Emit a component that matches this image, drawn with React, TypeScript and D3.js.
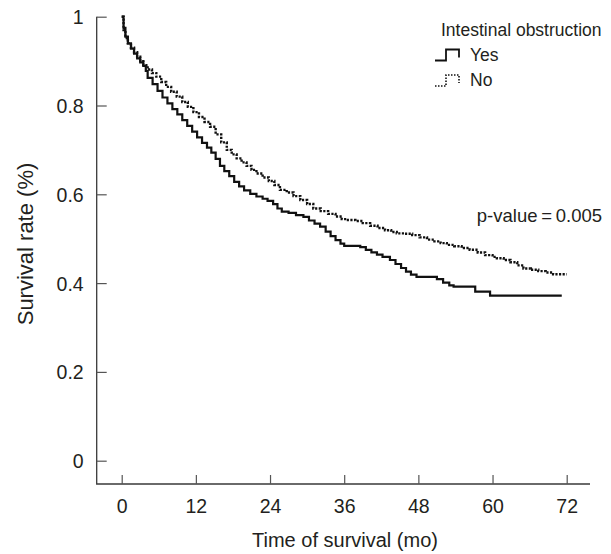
import React, { useEffect, useRef } from "react";
import * as d3 from "d3";

// axis ticks
const months = [0, 12, 24, 36, 48, 60, 72];
const rateTicks = [0, 0.2, 0.4, 0.6, 0.8, 1];

// Kaplan-Meier estimates: [month, survival]
const yesCurve: [number, number][] = [
  [0, 1], [0.3, 0.975], [0.6, 0.955], [1, 0.94], [1.5, 0.928], [2, 0.917],
  [2.5, 0.906], [3, 0.897], [3.5, 0.889], [3.9, 0.878], [4.2, 0.862], [5, 0.848],
  [5.8, 0.833], [6.6, 0.818], [7.4, 0.805], [8.2, 0.792], [9, 0.78], [9.8, 0.767],
  [10.6, 0.754], [11.4, 0.741], [12.2, 0.728], [13, 0.716], [13.8, 0.705], [14.5, 0.694],
  [15.2, 0.68], [15.9, 0.664], [16.6, 0.652], [17.4, 0.641], [18.2, 0.628], [19, 0.618],
  [19.8, 0.609], [20.8, 0.601], [21.8, 0.595], [22.8, 0.59], [23.6, 0.585], [24.5, 0.578],
  [25.2, 0.568], [25.9, 0.561], [27, 0.558], [28.2, 0.553], [29.4, 0.549], [30.3, 0.541],
  [31.2, 0.534], [32.1, 0.527], [33, 0.516], [33.8, 0.506], [34.6, 0.497], [35.4, 0.489],
  [36, 0.484], [38.6, 0.481], [39.5, 0.475], [40.4, 0.469], [41.3, 0.464], [42.2, 0.459],
  [43.4, 0.452], [44.3, 0.443], [45.2, 0.434], [46, 0.426], [46.8, 0.419], [47.7, 0.414],
  [51, 0.409], [52, 0.401], [53, 0.395], [53.7, 0.392], [57.2, 0.381], [59.6, 0.372],
  [71.2, 0.372],
];

const noCurve: [number, number][] = [
  [0, 1], [0.3, 0.97], [0.6, 0.952], [1, 0.94], [1.5, 0.93], [2, 0.92],
  [2.5, 0.91], [3, 0.9], [3.5, 0.891], [4.2, 0.881], [4.9, 0.873], [5.6, 0.865],
  [6.4, 0.853], [7.2, 0.842], [8, 0.831], [8.9, 0.82], [9.8, 0.808], [10.7, 0.797],
  [11.6, 0.785], [12.5, 0.774], [13.4, 0.763], [14.3, 0.752], [15.2, 0.735], [16.1, 0.717],
  [17, 0.7], [17.8, 0.69], [18.6, 0.681], [19.4, 0.672], [20.2, 0.664], [21, 0.655],
  [21.8, 0.647], [22.8, 0.638], [23.8, 0.63], [24.7, 0.621], [25.6, 0.61], [26.7, 0.604],
  [27.8, 0.596], [28.9, 0.587], [30, 0.578], [31, 0.568], [32.2, 0.562], [33.4, 0.556],
  [34.6, 0.55], [35.6, 0.544], [36.4, 0.542], [37.8, 0.54], [39, 0.535], [40.2, 0.529],
  [41.4, 0.524], [42.6, 0.519], [43.6, 0.515], [44.5, 0.512], [45.8, 0.511], [47, 0.508],
  [48.2, 0.503], [49.4, 0.498], [50.6, 0.494], [51.6, 0.49], [52.6, 0.486], [53.8, 0.483],
  [55, 0.479], [56.3, 0.475], [57.6, 0.469], [58.8, 0.463], [60, 0.459], [60.7, 0.456],
  [61.8, 0.452], [62.9, 0.447], [64, 0.44], [65, 0.433], [66.2, 0.43], [67.4, 0.427],
  [68.6, 0.424], [69.8, 0.42], [72, 0.42],
];

const legendTitle = "Intestinal obstruction";
const groups = ["Yes", "No"];
const pValue = "p-value\u2009=\u20090.005";

const FONT = "'Liberation Sans', Arial, Helvetica, sans-serif";
const INK = "#231f20";

function App() {
  const svgRef = useRef<SVGSVGElement>(null);

  useEffect(() => {
    const svg = d3.select(svgRef.current);
    svg.selectAll("*").remove();

    const width = 611, height = 554;
    svg.attr("width", width).attr("height", height);

    const x = d3.scaleLinear().domain([0, 72]).range([121.7, 566.7]);
    const y = d3.scaleLinear().domain([0, 1]).range([460.7, 16.7]);
    const axisLeftX = 96.7, axisBottomY = 484, axisRightEnd = 590;

    // frame (L shape)
    svg.append("path")
      .attr("d", `M${axisLeftX},${y(1)}V${axisBottomY}H${axisRightEnd}`)
      .attr("fill", "none")
      .attr("stroke", "#3a3a3a")
      .attr("stroke-width", 1.3);

    const yAxis = svg.append("g")
      .attr("transform", `translate(${axisLeftX},0)`)
      .call(d3.axisLeft(y).tickValues(rateTicks).tickFormat(d => String(d))
        .tickSizeInner(-10).tickSizeOuter(0).tickPadding(13));
    yAxis.select(".domain").remove();
    yAxis.selectAll("line").attr("stroke", "#555").attr("stroke-width", 1.2);
    yAxis.selectAll("text")
      .attr("dy", "0.36em")
      .attr("font-size", "19.5px")
      .attr("font-family", FONT)
      .attr("fill", INK);

    const xAxis = svg.append("g")
      .attr("transform", `translate(0,${axisBottomY})`)
      .call(d3.axisBottom(x).tickValues(months)
        .tickSizeInner(-9).tickSizeOuter(0).tickPadding(15));
    xAxis.select(".domain").remove();
    xAxis.selectAll("line").attr("stroke", "#555").attr("stroke-width", 1.2);
    xAxis.selectAll("text")
      .attr("font-size", "19.5px")
      .attr("font-family", FONT)
      .attr("fill", INK);

    // curves
    const lineGenerator = d3.line<[number, number]>()
      .x(d => x(d[0]))
      .y(d => y(d[1]))
      .curve(d3.curveStepAfter);

    svg.append("path").datum(noCurve)
      .attr("d", lineGenerator)
      .attr("fill", "none")
      .attr("stroke", "#111")
      .attr("stroke-width", 2.4)
      .attr("stroke-dasharray", "2.2,1.4");

    svg.append("path").datum(yesCurve)
      .attr("d", lineGenerator)
      .attr("fill", "none")
      .attr("stroke", "#111")
      .attr("stroke-width", 2.2);

    // axis titles
    svg.append("text")
      .attr("x", 345).attr("y", 547)
      .attr("text-anchor", "middle")
      .attr("font-size", "20px")
      .attr("font-family", FONT)
      .attr("fill", INK)
      .text("Time of survival (mo)");

    svg.append("text")
      .attr("transform", "translate(33,244) rotate(-90)")
      .attr("text-anchor", "middle")
      .attr("font-size", "22px")
      .attr("font-family", FONT)
      .attr("fill", INK)
      .text("Survival rate (%)");

    // p-value
    svg.append("text")
      .attr("x", 602).attr("y", 222)
      .attr("text-anchor", "end")
      .attr("font-size", "18.5px")
      .attr("font-family", FONT)
      .attr("fill", INK)
      .text(pValue);

    // legend
    const legend = svg.append("g").attr("transform", "translate(435,0)");
    legend.append("text")
      .attr("x", 6).attr("y", 36)
      .attr("font-size", "17.5px")
      .attr("font-family", FONT)
      .attr("fill", INK)
      .text(legendTitle);

    const rows = legend.selectAll("g.item")
      .data(groups)
      .join("g")
      .attr("class", "item")
      .attr("transform", (_, i) => `translate(0,${60.5 + i * 25.5})`);

    rows.append("path")
      .attr("d", "M0,0H11V-11H24V-3")
      .attr("fill", "none")
      .attr("stroke", "#111")
      .attr("stroke-width", (_, i) => (i === 0 ? 1.8 : 1.6))
      .attr("stroke-dasharray", (_, i) => (i === 0 ? null : "1.5,1.5"));

    rows.append("text")
      .attr("x", 35).attr("y", 0)
      .attr("font-size", "17.5px")
      .attr("font-family", FONT)
      .attr("fill", INK)
      .text(d => d);
  }, []);

  return (
    <div style={{ position: "absolute", left: 0, top: 0, background: "#fff" }}>
      <svg ref={svgRef} style={{ display: "block" }}></svg>
    </div>
  );
}

export default App;
